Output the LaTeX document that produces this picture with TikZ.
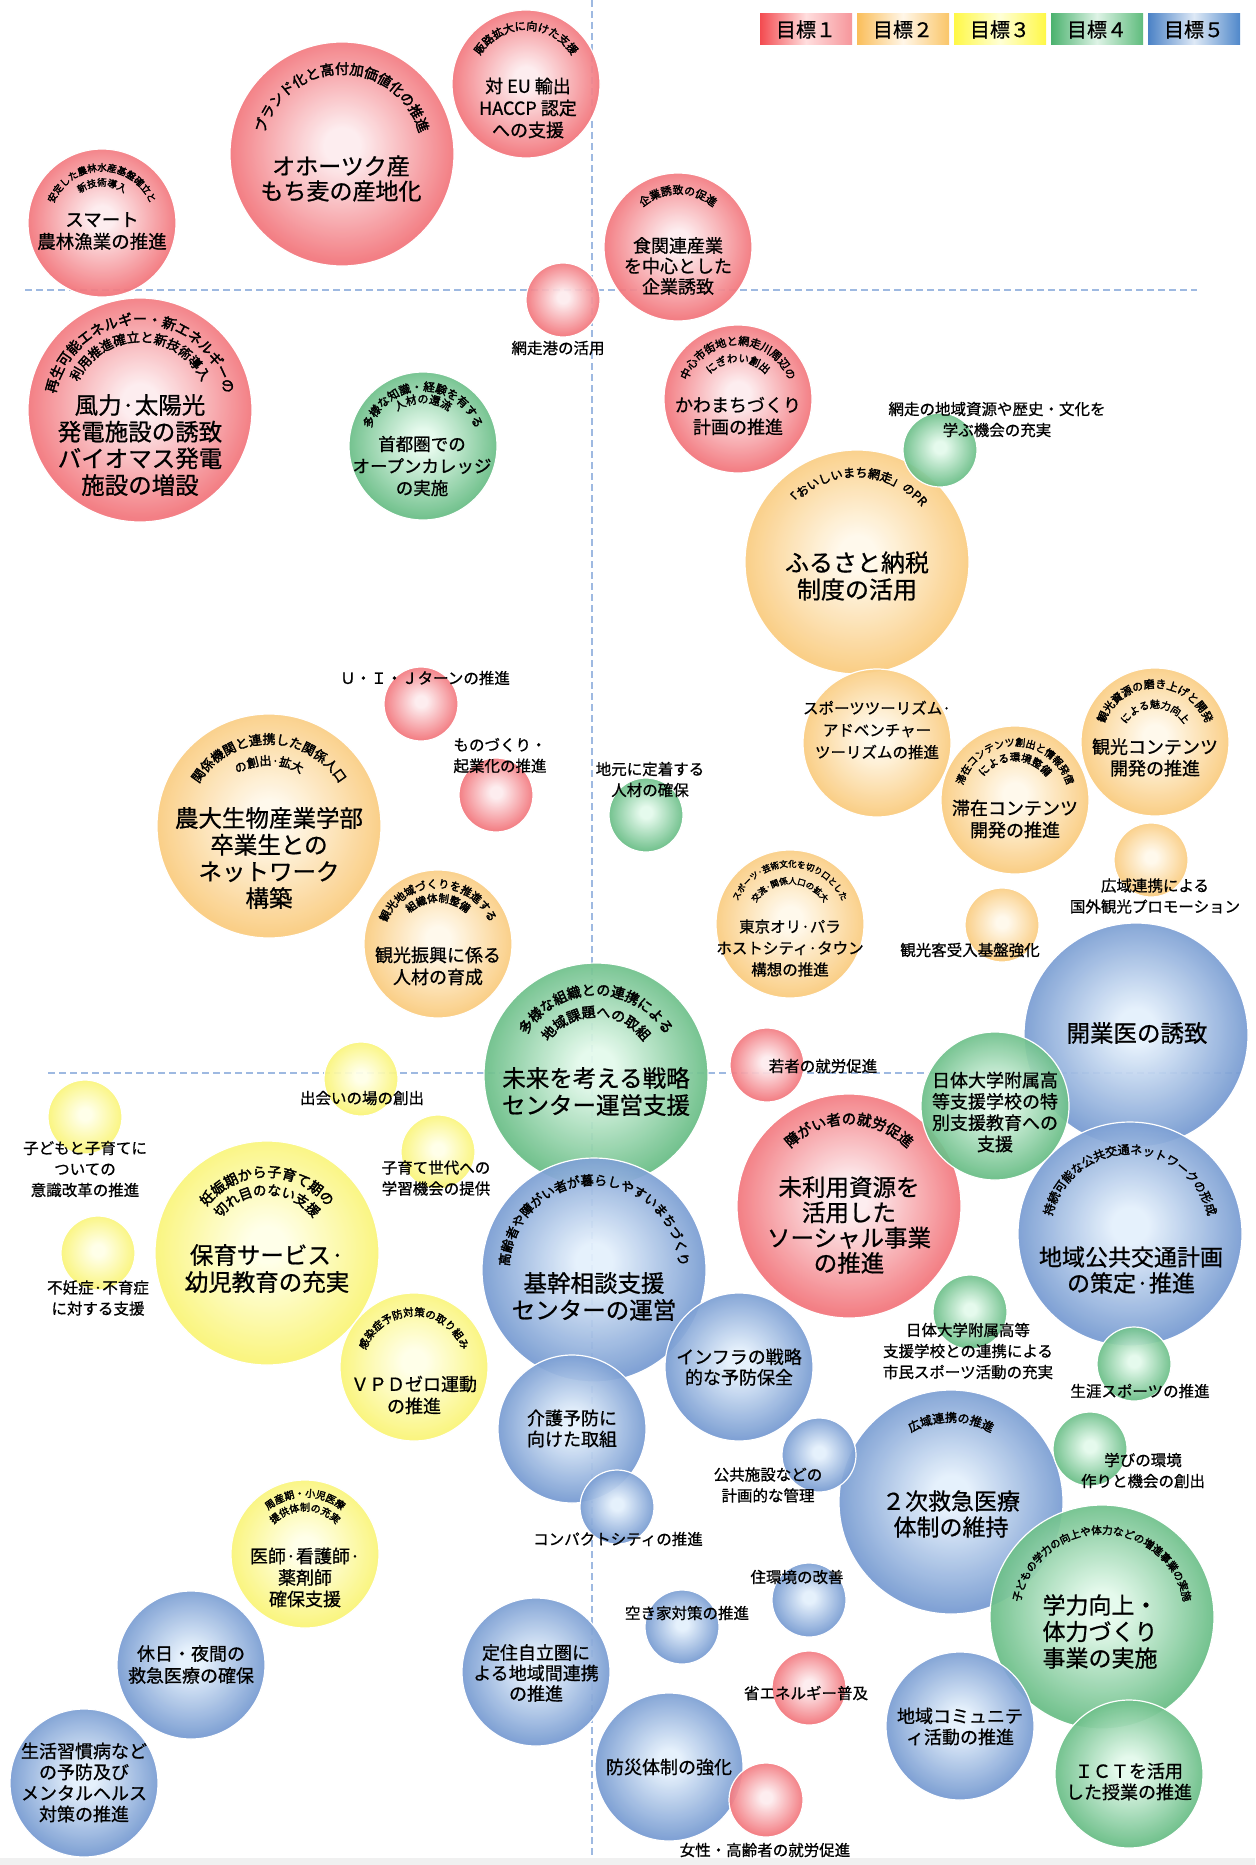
\documentclass[tikz,border=0pt]{standalone}
\usepackage{fontspec}
\setmainfont[FakeBold=0.8]{Noto Sans CJK JP}
\newfontfamily\arcfont[FakeBold=2.5]{Noto Sans CJK JP}
\usetikzlibrary{decorations.text}
\definecolor{redin}{RGB}{253,236,238}\definecolor{redout}{RGB}{243,118,124}
\definecolor{orin}{RGB}{255,249,235}\definecolor{orout}{RGB}{250,204,128}
\definecolor{yein}{RGB}{255,255,232}\definecolor{yeout}{RGB}{250,245,120}
\definecolor{grin}{RGB}{228,250,236}\definecolor{grout}{RGB}{106,190,135}
\definecolor{bluin}{RGB}{228,240,252}\definecolor{bluout}{RGB}{120,156,210}
\definecolor{guidecol}{RGB}{158,185,225}
\pgfdeclareradialshading{shred}{\pgfpoint{0bp}{2bp}}{color(0bp)=(redin); color(4bp)=(redin); color(25bp)=(redout); color(50bp)=(redout)}
\pgfdeclareradialshading{shor}{\pgfpoint{0bp}{2bp}}{color(0bp)=(orin); color(4bp)=(orin); color(25bp)=(orout); color(50bp)=(orout)}
\pgfdeclareradialshading{shye}{\pgfpoint{0bp}{2bp}}{color(0bp)=(yein); color(4bp)=(yein); color(25bp)=(yeout); color(50bp)=(yeout)}
\pgfdeclareradialshading{shgr}{\pgfpoint{0bp}{2bp}}{color(0bp)=(grin); color(4bp)=(grin); color(25bp)=(grout); color(50bp)=(grout)}
\pgfdeclareradialshading{shbl}{\pgfpoint{0bp}{2bp}}{color(0bp)=(bluin); color(4bp)=(bluin); color(25bp)=(bluout); color(50bp)=(bluout)}
\newcommand\bubble[5]{\node[bub=#2,#3] (#1) at (#4,-#5) {};}
\newcommand\mtxt[6]{\node[maintxt,font=\fontsize{#4}{#5}\selectfont] (#1) at (#2,-#3) {#6};}
\newcommand\lab[4]{\node[lbl] (#1) at (#2,-#3) {#4};}
\newcommand\arctxt[5]{\path[decorate,decoration={text along path,text align=center,text={|\arcfont\fontsize{#4}{#4}\selectfont|#5}}] (#1,-#2) ++(200:#3) arc[start angle=200,end angle=-20,radius=#3];}
\begin{document}
\begin{tikzpicture}[x=1pt,y=1pt,
  bub/.style={circle,inner sep=0pt,draw=white,line width=1.2pt,shade,shading=#1,fill opacity=0.93},
  big/.style={minimum size=224pt},
  mid/.style={minimum size=148pt},
  small/.style={minimum size=74pt},
  maintxt/.style={align=center,text=black,inner sep=0pt},
  lbl/.style={align=center,inner sep=0pt,font=\fontsize{15.5}{21}\selectfont},
  guide/.style={draw=guidecol,line width=1.3pt,dash pattern=on 7pt off 4pt},
  legbox/.style={minimum width=92pt,minimum height=31pt,inner sep=0pt,font=\fontsize{20}{20}\selectfont}]
\useasboundingbox (0,0) rectangle (1255,-1865);
\fill[white] (0,0) rectangle (1255,-1865);
\fill[black!6] (0,-1858) rectangle (1255,-1865);
% guides
\coordinate (h1a) at (25,-290); \coordinate (h1b) at (1197,-290);
\coordinate (h2a) at (48,-1073); \coordinate (h2b) at (1240,-1073);
\coordinate (v1a) at (592,0); \coordinate (v1b) at (592,-1855);
\draw[guide] (h1a) -- (h1b);
\draw[guide] (h2a) -- (h2b);
\draw[guide] (v1a) -- (v1b);
% legend
\node[legbox,left color={rgb,255:red,243;green,75;blue,80},right color={rgb,255:red,246;green,150;blue,155},middle color={rgb,255:red,255;green,222;blue,222}] (g1) at (806,-29.5) {目標１};
\node[legbox,left color={rgb,255:red,250;green,190;blue,90},right color={rgb,255:red,250;green,198;blue,105},middle color={rgb,255:red,255;green,246;blue,232}] (g2) at (903,-29.5) {目標２};
\node[legbox,left color={rgb,255:red,255;green,248;blue,70},right color={rgb,255:red,255;green,248;blue,70},middle color={rgb,255:red,255;green,255;blue,215}] (g3) at (1000,-29.5) {目標３};
\node[legbox,left color={rgb,255:red,75;green,178;blue,110},right color={rgb,255:red,95;green,188;blue,125},middle color={rgb,255:red,222;green,243;blue,230}] (g4) at (1097,-29.5) {目標４};
\node[legbox,left color={rgb,255:red,75;green,130;blue,198},right color={rgb,255:red,80;green,136;blue,202},middle color={rgb,255:red,222;green,233;blue,246}] (g5) at (1194,-29.5) {目標５};
% large bubbles
\bubble{okh}{shred}{big}{342}{154}
\bubble{wind}{shred}{big}{140}{410}
\bubble{furu}{shor}{big}{857}{562}
\bubble{nodai}{shor}{big}{269}{826}
\bubble{mirai}{shgr}{big}{596}{1075}
\bubble{kikan}{shbl}{big}{594}{1270}
\bubble{kaigyo}{shbl}{big}{1136}{1035}
\bubble{kotsu}{shbl}{big}{1130}{1234}
\bubble{miriyo}{shred}{big}{849}{1206}
\bubble{hoiku}{shye}{big}{267}{1253}
\bubble{kyukyu}{shbl}{big}{951}{1502}
\bubble{gakuryoku}{shgr}{big}{1102}{1617}
% medium bubbles
\bubble{smart}{shred}{mid}{102}{223}
\bubble{eu}{shred}{mid}{526}{84}
\bubble{shoku}{shred}{mid}{678}{247}
\bubble{shuto}{shgr}{mid}{423}{446}
\bubble{kawa}{shred}{mid}{738}{399}
\bubble{sports}{shor}{mid}{877}{743}
\bubble{kanko}{shor}{mid}{1155}{742}
\bubble{taizai}{shor}{mid}{1015}{800}
\bubble{tokyo}{shor}{mid}{790}{924}
\bubble{shinko}{shor}{mid}{438}{944}
\bubble{nittai}{shgr}{mid}{995}{1106}
\bubble{infra}{shbl}{mid}{739}{1367}
\bubble{vpd}{shye}{mid}{414}{1367}
\bubble{kaigo}{shbl}{mid}{572}{1429}
\bubble{ishi}{shye}{mid}{305}{1554}
\bubble{kyujitsu}{shbl}{mid}{191}{1665}
\bubble{teiju}{shbl}{mid}{536}{1672}
\bubble{bosai}{shbl}{mid}{669}{1767}
\bubble{comm}{shbl}{mid}{960}{1726}
\bubble{ict}{shgr}{mid}{1129}{1774}
\bubble{seikatsu}{shbl}{mid}{84}{1783}
% small bubbles
\bubble{port}{shred}{small}{563}{300}
\bubble{rekishi}{shgr}{small}{940}{450}
\bubble{uij}{shred}{small}{421}{704}
\bubble{mono}{shred}{small}{496}{795}
\bubble{jimoto}{shgr}{small}{646}{815}
\bubble{kouiki}{shor}{small}{1151}{860}
\bubble{ukeire}{shor}{small}{1002}{925}
\bubble{wakamono}{shred}{small}{767}{1065}
\bubble{deai}{shye}{small}{361}{1079}
\bubble{kodomo}{shye}{small}{85}{1117}
\bubble{kosodate}{shye}{small}{438}{1152}
\bubble{funin}{shye}{small}{98}{1253}
\bubble{nittaiS}{shgr}{small}{970}{1312}
\bubble{shogai}{shgr}{small}{1134}{1364}
\bubble{kokyo}{shbl}{small}{819}{1455}
\bubble{compact}{shbl}{small}{617}{1507}
\bubble{manabi}{shgr}{small}{1090}{1449}
\bubble{jukankyo}{shbl}{small}{809}{1600}
\bubble{akiya}{shbl}{small}{682}{1627}
\bubble{shoene}{shred}{small}{809}{1688}
\bubble{josei}{shred}{small}{766}{1800}
% main texts
\mtxt{tokh}{341}{178.5}{23}{25}{オホーツク産\\もち麦の産地化}
\mtxt{twind}{140}{445}{23.5}{26.7}{風力·太陽光\\発電施設の誘致\\バイオマス発電\\施設の増設}
\mtxt{tfuru}{857}{576}{24}{27}{ふるさと納税\\制度の活用}
\mtxt{tnodai}{269}{858}{23.5}{26.7}{農大生物産業学部\\卒業生との\\ネットワーク\\構築}
\mtxt{tmirai}{596}{1091.5}{23.5}{27}{未来を考える戦略\\センター運営支援}
\mtxt{tkikan}{594}{1296.5}{23.5}{27}{基幹相談支援\\センターの運営}
\mtxt{tkaigyo}{1137}{1033}{23.5}{27}{開業医の誘致}
\mtxt{tkotsu}{1131}{1270}{23}{26}{地域公共交通計画\\の策定·推進}
\mtxt{tmiriyo}{849}{1225}{23.5}{25.3}{未利用資源を\\活用した\\ソーシャル事業\\の推進}
\mtxt{thoiku}{267}{1268.5}{23.5}{27}{保育サービス·\\幼児教育の充実}
\mtxt{tkyukyu}{951}{1514}{23}{26}{２次救急医療\\体制の維持}
\mtxt{tgaku}{1100}{1631.5}{23}{26.5}{学力向上・\\体力づくり\\事業の実施}
\mtxt{tsmart}{102}{231}{18.5}{22}{スマート\\農林漁業の推進}
\mtxt{teu}{528}{108}{18}{22}{対 EU 輸出\\HACCP 認定\\への支援}
\mtxt{tshoku}{678}{266}{18}{20.5}{食関連産業\\を中心とした\\企業誘致}
\mtxt{tshuto}{422}{466}{17.5}{22}{首都圏での\\オープンカレッジ\\の実施}
\mtxt{tkawa}{738}{416}{18}{22}{かわまちづくり\\計画の推進}
\mtxt{tsports}{877}{730}{15.5}{22}{スポーツツーリズム·\\アドベンチャー\\ツーリズムの推進}
\mtxt{tkanko}{1155}{757.5}{18}{21.5}{観光コンテンツ\\開発の推進}
\mtxt{ttaizai}{1015}{819}{18}{22}{滞在コンテンツ\\開発の推進}
\mtxt{ttokyo}{790}{948}{15.5}{21.5}{東京オリ·パラ\\ホストシティ·タウン\\構想の推進}
\mtxt{tshinko}{438}{966}{18}{22}{観光振興に係る\\人材の育成}
\mtxt{tnittai}{995}{1112}{18}{21.3}{日体大学附属高\\等支援学校の特\\別支援教育への\\支援}
\mtxt{tinfra}{739}{1367}{18}{20.5}{インフラの戦略\\的な予防保全}
\mtxt{tvpd}{414}{1395}{18}{22}{ＶＰＤゼロ運動\\の推進}
\mtxt{tkaigo}{572}{1428.5}{18}{21}{介護予防に\\向けた取組}
\mtxt{tishi}{305}{1577.5}{18}{21.5}{医師·看護師·\\薬剤師\\確保支援}
\mtxt{tkyujitsu}{191}{1664.5}{18}{22}{休日・夜間の\\救急医療の確保}
\mtxt{tteiju}{536}{1673}{18}{20.5}{定住自立圏に\\よる地域間連携\\の推進}
\mtxt{tcomm}{960}{1726.5}{18}{21}{地域コミュニテ\\ィ活動の推進}
\mtxt{tbosai}{669}{1767}{18}{21}{防災体制の強化}
\mtxt{tict}{1129}{1781.5}{18}{21}{ＩＣＴを活用\\した授業の推進}
\mtxt{tseikatsu}{84}{1782.5}{18}{21}{生活習慣病など\\の予防及び\\メンタルヘルス\\対策の推進}
% arc texts
\arctxt{342}{154}{80}{14}{ブランド化と高付加価値化の推進}
\arctxt{140}{410}{86}{14}{再生可能エネルギー・新エネルギーの}
\arctxt{140}{410}{68}{13}{利用推進確立と新技術導入}
\arctxt{857}{562}{85}{12}{「おいしいまち網走」のPR}
\arctxt{269}{826}{82}{13}{関係機関と連携した関係人口}
\arctxt{269}{826}{61}{12}{の創出·拡大}
\arctxt{596}{1075}{80}{14}{多様な組織との連携による}
\arctxt{596}{1075}{58}{14}{地域課題への取組}
\arctxt{594}{1270}{85}{13}{高齢者や障がい者が暮らしやすいまちづくり}
\arctxt{1130}{1234}{80}{12}{持続可能な公共交通ネットワークの形成}
\arctxt{849}{1206}{82}{14.5}{障がい者の就労促進}
\arctxt{267}{1253}{76}{14}{妊娠期から子育て期の}
\arctxt{267}{1253}{58}{13.5}{切れ目のない支援}
\arctxt{951}{1502}{80}{12}{広域連携の推進}
\arctxt{1102}{1617}{83}{10.5}{子どもの学力の向上や体力などの増進事業の実施}
\arctxt{102}{223}{52}{9.5}{安定した農林水産基盤確立と}
\arctxt{102}{223}{37}{9.5}{新技術導入}
\arctxt{526}{84}{54}{11}{販路拡大に向けた支援}
\arctxt{678}{247}{53}{11}{企業誘致の促進}
\arctxt{738}{399}{54}{11}{中心市街地と網走川周辺の}
\arctxt{738}{399}{37}{10.5}{にぎわい創出}
\arctxt{423}{446}{55}{11.5}{多様な知識・経験を有する}
\arctxt{423}{446}{43}{11}{人材の還流}
\arctxt{1015}{800}{54}{10}{滞在コンテンツ創出と情報発信}
\arctxt{1015}{800}{39}{10.5}{による環境整備}
\arctxt{1155}{742}{54}{11}{観光資源の磨き上げと開発}
\arctxt{1155}{742}{34}{10}{による魅力向上}
\arctxt{790}{924}{57}{8.5}{スポーツ·芸術文化を切り口とした}
\arctxt{790}{924}{40}{8.5}{交流·関係人口の拡大}
\arctxt{438}{944}{56}{11}{観光地域づくりを推進する}
\arctxt{438}{944}{42}{10.5}{組織体制整備}
\arctxt{414}{1367}{51}{10.5}{感染症予防対策の取り組み}
\arctxt{305}{1554}{57}{10}{周産期・小児医療}
\arctxt{305}{1554}{43}{10}{提供体制の充実}
% labels
\lab{lport}{558}{348}{網走港の活用}
\lab{lrekishi}{997}{419.5}{網走の地域資源や歴史・文化を\\学ぶ機会の充実}
\lab{luij}{425}{678}{Ｕ・Ｉ・Ｊターンの推進}
\lab{lmono}{500}{755.5}{ものづくり・\\起業化の推進}
\lab{ljimoto}{650}{779.5}{地元に定着する\\人材の確保}
\lab{lkouiki}{1155}{896}{広域連携による\\国外観光プロモーション}
\lab{lukeire}{970}{950}{観光客受入基盤強化}
\lab{lwakamono}{823}{1066}{若者の就労促進}
\lab{ldeai}{362}{1098}{出会いの場の創出}
\lab{lkodomo}{85}{1169}{子どもと子育てに\\ついての\\意識改革の推進}
\lab{lkosodate}{436}{1178}{子育て世代への\\学習機会の提供}
\lab{lfunin}{98}{1298}{不妊症·不育症\\に対する支援}
\lab{lnittaiS}{968}{1351}{日体大学附属高等\\支援学校との連携による\\市民スポーツ活動の充実}
\lab{lshogai}{1140}{1391}{生涯スポーツの推進}
\lab{lkokyo}{768}{1485}{公共施設などの\\計画的な管理}
\lab{lcompact}{618}{1539}{コンパクトシティの推進}
\lab{lmanabi}{1143}{1470.5}{学びの環境\\作りと機会の創出}
\lab{ljukankyo}{797}{1577}{住環境の改善}
\lab{lakiya}{687}{1613}{空き家対策の推進}
\lab{lshoene}{806}{1693}{省エネルギー普及}
\lab{ljosei}{765}{1850}{女性・高齢者の就労促進}
\end{tikzpicture}
\end{document}
